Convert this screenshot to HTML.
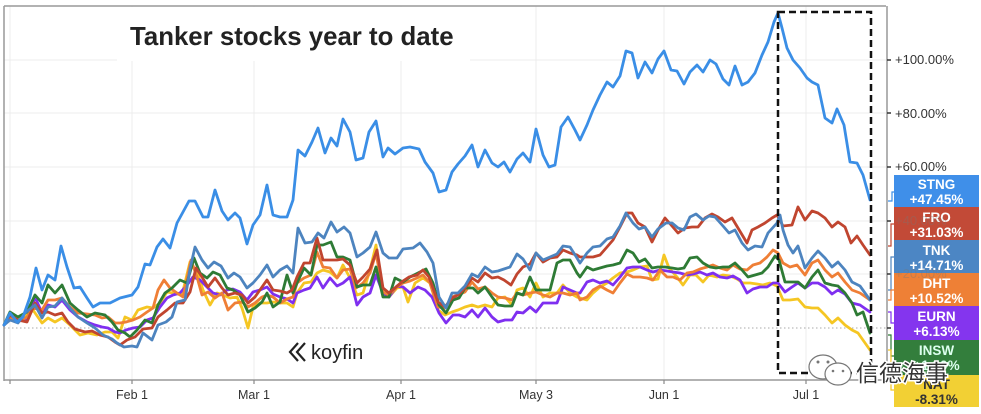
<!DOCTYPE html>
<html><head><meta charset="utf-8"><style>
html,body{margin:0;padding:0;background:#fff;}
svg{display:block;}
text{font-family:"Liberation Sans",Arial,sans-serif;}
</style></head><body>
<svg width="981" height="414" viewBox="0 0 981 414" xmlns="http://www.w3.org/2000/svg">
<rect width="981" height="414" fill="#fff"/>
<!-- grid -->
<g stroke="#ececec" stroke-width="1">
<line x1="4" y1="60" x2="886" y2="60"/>
<line x1="4" y1="113" x2="886" y2="113"/>
<line x1="4" y1="167" x2="886" y2="167"/>
<line x1="4" y1="221" x2="886" y2="221"/>
<line x1="4" y1="274" x2="886" y2="274"/>
<line x1="10" y1="6" x2="10" y2="380"/>
<line x1="132" y1="6" x2="132" y2="380"/>
<line x1="254" y1="6" x2="254" y2="380"/>
<line x1="401" y1="6" x2="401" y2="380"/>
<line x1="536" y1="6" x2="536" y2="380"/>
<line x1="664" y1="6" x2="664" y2="380"/>
<line x1="806" y1="6" x2="806" y2="380"/>
</g>
<!-- title backdrop -->
<rect x="117" y="7" width="353" height="54" fill="#fff"/>
<line x1="4" y1="328" x2="886" y2="328" stroke="#aaa" stroke-width="1" stroke-dasharray="1.5,2.5"/>
<!-- frame -->
<line x1="4" y1="6" x2="886" y2="6" stroke="#999" stroke-width="1.5"/>
<line x1="4" y1="6" x2="4" y2="381" stroke="#999" stroke-width="1.5"/>
<line x1="4" y1="380" x2="887" y2="380" stroke="#999" stroke-width="1.5"/>
<line x1="887" y1="6" x2="887" y2="380" stroke="#999" stroke-width="1.5"/>
<g stroke="#888" stroke-width="1.2">
<line x1="10" y1="380" x2="10" y2="384"/>
<line x1="132" y1="380" x2="132" y2="384"/>
<line x1="254" y1="380" x2="254" y2="384"/>
<line x1="401" y1="380" x2="401" y2="384"/>
<line x1="536" y1="380" x2="536" y2="384"/>
<line x1="664" y1="380" x2="664" y2="384"/>
<line x1="806" y1="380" x2="806" y2="384"/>
</g>
<g stroke="#333" stroke-width="1.5">
<line x1="887" y1="60" x2="891" y2="60"/>
<line x1="887" y1="113" x2="891" y2="113"/>
<line x1="887" y1="167" x2="891" y2="167"/>
<line x1="887" y1="221" x2="891" y2="221"/>
<line x1="887" y1="274" x2="891" y2="274"/>
<line x1="887" y1="328" x2="891" y2="328"/>
</g>
<!-- axis labels -->
<g font-size="13" fill="#333">
<text x="895" y="64">+100.00%</text>
<text x="895" y="118">+80.00%</text>
<text x="895" y="171">+60.00%</text>
</g>
<g font-size="12.5" fill="#333" text-anchor="middle">
<text x="132" y="399">Feb 1</text>
<text x="254" y="399">Mar 1</text>
<text x="401" y="399">Apr 1</text>
<text x="536" y="399">May 3</text>
<text x="664" y="399">Jun 1</text>
<text x="806" y="399">Jul 1</text>
</g>
<text x="130" y="45" font-size="25.8" font-weight="bold" fill="#222">Tanker stocks year to date</text>
<!-- koyfin logo -->
<g fill="none" stroke="#222" stroke-width="2.2">
<polyline points="298,343 290,352 298,361"/>
<polyline points="305,343 297,352 305,361"/>
</g>
<text x="311" y="359" font-size="20" fill="#222">koyfin</text>
<!-- series -->
<g fill="none" stroke-width="2.8" stroke-linejoin="round" stroke-linecap="round">
<polyline stroke="#f5c623" points="4,325 10,317 18,320 27,315 33,310 42,323 48,318 55,322 62,318 70,325 80,335 88,333 97,335 105,332 112,332 118,338 125,317 132,320 138,310 147,307 153,308 160,303 167,292 173,293 182,295 190,262 197,272 203,290 210,305 217,293 223,295 230,298 237,297 242,308 248,328 253,307 260,303 267,303 273,302 280,303 287,303 293,307 297,293 304,283 311,282 317,273 323,270 330,272 337,278 343,265 350,278 357,295 363,293 370,270 376,245 383,295 389,297 397,288 403,287 408,302 415,283 423,278 430,283 438,310 445,315 452,312 458,310 465,307 472,305 478,307 485,305 492,307 498,298 505,297 512,305 517,290 523,288 530,297 536,283 543,297 550,293 557,293 563,285 570,293 577,297 580,298 587,300 593,293 600,287 607,283 613,278 620,273 627,272 633,270 640,267 647,266 652,280 658,279 664,255 669,268 677,277 683,285 690,275 696,275 703,282 709,275 717,277 723,275 730,276 737,279 743,283 750,283 757,284 763,285 770,283 777,286 783,300 790,300 798,299 805,307 812,308 818,308 825,315 832,323 838,318 845,325 852,330 858,333 870,350"/>
<polyline stroke="#7f2ff0" points="4,325 10,317 18,320 27,320 35,297 42,313 48,305 55,307 62,300 70,310 78,317 87,322 95,325 102,327 108,328 115,332 120,333 126,330 133,328 140,327 147,320 153,318 160,307 167,298 173,295 180,293 187,285 193,277 200,280 207,287 213,293 220,295 227,290 233,289 240,292 247,300 253,292 260,290 267,287 273,294 280,297 287,299 293,303 297,293 304,290 310,288 317,277 323,288 330,278 337,286 343,283 350,277 357,305 363,297 370,293 376,275 383,293 389,297 397,286 403,287 410,293 418,287 425,290 432,297 439,313 446,323 453,315 459,315 465,317 472,310 478,317 485,308 492,317 498,322 505,320 512,320 517,312 523,313 530,307 536,312 543,303 550,303 557,303 563,287 570,290 577,293 580,293 587,282 593,280 600,283 607,281 613,285 620,277 627,268 633,267 640,267 647,270 653,272 660,270 667,271 673,272 680,273 687,275 693,274 700,272 707,275 713,273 720,277 727,278 733,276 740,280 747,293 753,289 760,287 767,287 773,283 778,283 785,292 792,287 798,283 805,288 812,283 818,283 825,287 832,294 838,290 845,294 852,303 860,305 870,312"/>
<polyline stroke="#ef7f36" points="4,325 10,318 18,322 27,317 33,308 42,310 48,300 55,300 62,298 70,307 78,313 87,314 95,315 102,318 108,317 115,323 120,323 126,322 133,320 140,317 147,312 153,308 158,290 164,280 170,288 177,293 183,297 191,260 197,277 202,295 208,292 215,298 222,293 228,310 235,303 242,302 248,307 255,303 262,297 267,295 273,297 280,303 287,299 293,297 297,283 304,278 311,275 317,252 323,267 330,268 337,278 343,270 350,269 356,288 363,283 370,273 376,253 383,292 389,295 397,287 403,283 410,281 417,278 423,275 430,283 438,307 445,308 452,297 458,295 465,292 472,282 478,289 485,287 492,293 498,297 505,298 512,300 517,293 523,295 530,293 536,292 543,295 550,297 557,293 563,293 570,295 577,293 580,300 587,297 593,290 600,286 607,290 613,293 620,283 627,274 633,277 640,277 647,278 653,280 660,270 667,277 673,277 680,280 687,273 693,272 700,269 707,267 713,265 720,268 727,270 733,265 740,269 747,270 753,265 760,263 767,257 773,250 778,253 783,263 790,267 797,265 805,275 812,263 818,260 825,270 832,277 838,273 845,282 852,290 860,293 870,300"/>
<polyline stroke="#2e7b35" points="4,325 10,312 18,317 27,312 35,295 42,303 48,285 55,293 62,285 70,303 78,310 87,317 95,313 105,315 112,322 118,330 125,333 130,337 137,330 145,320 152,323 158,305 165,293 172,288 180,280 187,283 194,258 200,273 207,278 213,272 220,275 227,288 233,290 240,295 248,312 255,308 262,302 267,293 273,307 280,302 287,275 293,293 297,283 304,268 311,275 317,245 323,245 331,242 337,257 343,257 350,260 357,287 363,285 370,285 376,267 383,297 389,297 395,278 403,282 410,277 418,273 426,269 433,283 439,305 446,313 453,300 459,298 465,288 473,288 478,293 485,287 492,297 498,305 505,306 512,306 517,293 523,295 530,277 536,290 543,290 550,290 557,263 563,260 570,260 577,273 580,277 587,267 593,270 600,268 607,266 613,265 620,263 627,250 633,253 639,262 645,259 652,268 658,267 665,267 672,268 678,269 684,268 690,258 697,257 703,263 710,267 716,268 723,267 729,267 735,263 742,270 748,277 755,275 762,273 768,267 775,256 779,260 785,282 792,282 798,282 805,288 812,277 818,270 825,283 832,285 838,286 845,293 852,303 857,315 863,312 870,333"/>
<polyline stroke="#c0452f" points="4,325 10,315 18,320 27,322 35,303 42,313 48,312 55,315 62,313 68,322 75,329 85,332 92,331 100,335 108,337 115,342 120,345 127,340 135,337 143,329 152,328 158,317 167,310 175,303 183,303 190,292 196,268 202,277 208,287 215,278 222,288 228,295 235,293 242,295 248,303 255,297 262,287 267,280 273,290 280,291 287,293 292,290 297,277 304,263 310,263 317,238 323,260 330,260 337,260 343,259 350,265 357,283 363,277 370,269 377,250 383,288 389,293 396,287 403,281 409,277 417,275 423,270 429,277 438,302 445,307 452,298 458,295 465,288 472,278 478,282 485,273 492,278 498,277 504,280 511,285 517,274 523,267 530,264 536,253 543,262 550,258 557,257 563,250 570,253 577,255 580,257 587,257 593,257 600,255 607,247 613,240 620,227 627,213 632,213 638,223 645,227 652,242 658,230 665,218 672,226 678,233 685,228 692,227 698,227 705,218 712,214 718,217 725,222 732,218 738,228 747,243 752,230 758,227 765,223 772,218 777,215 783,226 792,225 798,207 805,220 812,211 818,213 825,218 832,227 838,222 845,227 851,243 857,236 863,245 870,255"/>
<polyline stroke="#4d84bf" points="4,325 10,320 18,323 25,313 35,305 42,318 48,307 55,306 62,298 70,308 78,317 87,323 95,328 103,335 112,339 117,343 124,347 132,346 137,347 143,333 152,340 158,325 166,322 172,317 177,302 185,300 190,269 195,247 202,260 208,268 214,262 221,266 228,278 234,273 240,277 247,288 253,283 260,275 267,265 273,277 280,270 287,266 293,273 298,228 305,243 312,242 318,233 324,238 331,222 337,232 344,227 350,233 357,257 363,253 370,247 376,232 383,253 389,258 397,258 403,249 413,248 420,243 427,252 433,263 439,297 446,308 452,293 458,293 465,286 472,274 478,277 485,267 492,272 498,271 504,269 510,267 517,254 523,259 530,270 536,253 543,260 550,257 557,254 563,246 570,247 577,258 580,263 587,253 593,247 600,246 607,239 613,237 620,226 626,213 633,223 639,229 645,227 652,237 658,229 666,223 672,223 678,228 684,230 690,217 696,214 703,220 709,216 715,217 723,226 729,233 735,230 742,243 748,250 755,246 762,247 768,233 777,223 780,215 783,230 788,245 793,253 798,246 805,268 812,258 818,251 825,258 832,267 838,262 845,270 852,282 860,286 870,300"/>
<polyline stroke="#3a8ee6" points="4,325 10,313 17,322 23,317 30,297 36,268 42,290 48,275 55,280 61,246 67,267 74,288 80,287 87,298 93,307 100,303 110,303 120,298 132,295 138,287 145,264 150,265 157,247 163,239 170,248 177,223 183,212 189,201 195,201 203,217 208,217 215,190 222,211 228,220 235,213 240,218 247,244 253,225 260,215 267,185 273,215 280,217 287,217 293,200 298,150 305,156 312,142 318,128 325,153 331,138 337,146 343,119 350,132 356,160 363,158 369,132 376,121 383,157 388,148 395,154 403,148 410,147 419,149 425,162 433,173 439,192 446,190 452,172 458,164 465,156 472,145 478,167 485,150 492,163 498,167 504,162 510,172 517,159 523,153 530,162 536,129 543,155 549,167 555,165 561,127 568,117 575,130 580,140 587,125 593,110 600,95 607,82 613,87 620,76 626,51 632,53 638,78 645,62 652,73 658,59 664,51 671,70 677,71 684,84 690,72 697,65 703,72 710,60 716,64 723,79 729,85 735,66 742,85 748,82 755,73 762,55 768,42 774,22 778,13 782,28 787,48 793,60 800,68 807,78 812,82 818,85 825,118 832,123 837,109 844,125 850,162 857,163 863,175 870,200"/>
</g>
<!-- connectors -->
<g fill="none" stroke-width="1.2">
<polyline stroke="#3a8ee6" points="888,201 892,201 892,192 895,192"/>
<polyline stroke="#c0452f" points="888,246 891,246 891,224 895,224"/>
<polyline stroke="#4d84bf" points="888,290 891,290 891,257 895,257"/>
<polyline stroke="#ef7f36" points="888,300 891,300 891,290 895,290"/>
<polyline stroke="#7f2ff0" points="888,312 891,312 891,323 895,323"/>
<polyline stroke="#2e7b35" points="888,335 891,335 891,356 895,356"/>
<polyline stroke="#f5c623" points="888,350 891,350 891,390 895,390"/>
</g>
<!-- dashed box -->
<rect x="778" y="12" width="93" height="361" fill="none" stroke="#111" stroke-width="2.5" stroke-dasharray="7,4"/>
<!-- label boxes -->
<g font-size="13.5" font-weight="bold" text-anchor="middle">
<rect x="894" y="175" width="85" height="32" fill="#3f8fe9"/>
<text x="936.5" y="189" fill="#fff">STNG</text><text x="936.5" y="204" fill="#fff">+47.45%</text>
<rect x="894" y="207" width="85" height="33" fill="#c24a37"/>
<text x="936.5" y="222" fill="#fff">FRO</text><text x="936.5" y="237" fill="#fff">+31.03%</text>
<rect x="894" y="240" width="85" height="33" fill="#4c86c4"/>
<text x="936.5" y="255" fill="#fff">TNK</text><text x="936.5" y="270" fill="#fff">+14.71%</text>
<rect x="894" y="273" width="85" height="33" fill="#ee8036"/>
<text x="936.5" y="288" fill="#fff">DHT</text><text x="936.5" y="303" fill="#fff">+10.52%</text>
<rect x="894" y="306" width="85" height="34" fill="#8435ee"/>
<text x="936.5" y="321" fill="#fff">EURN</text><text x="936.5" y="336" fill="#fff">+6.13%</text>
<rect x="894" y="340" width="85" height="35" fill="#337e3c"/>
<text x="936.5" y="355" fill="#dfe">INSW</text><text x="936.5" y="370" fill="#dfe">+1.90%</text>
<rect x="894" y="375" width="85" height="32" fill="#f2d034"/>
<text x="936.5" y="389" fill="#333">NAT</text><text x="936.5" y="404" fill="#333">-8.31%</text>
</g>
<g font-size="13" fill="#777" opacity="0.35">
<text x="895" y="225">+40.00%</text>
<text x="895" y="278">+20.00%</text>
</g>
<!-- watermark -->
<g fill="#fff" stroke="#777" stroke-width="1.2">
<ellipse cx="823" cy="367" rx="14" ry="12"/>
<ellipse cx="838" cy="374" rx="13" ry="11"/>
</g>
<g fill="#777">
<circle cx="818" cy="362" r="1.5"/><circle cx="828" cy="362" r="1.5"/>
<circle cx="833" cy="371" r="1.3"/><circle cx="843" cy="371" r="1.3"/>
</g>
<text x="856" y="381" font-size="23" fill="#333" stroke="#fff" stroke-width="3" paint-order="stroke" font-family="'Noto Sans CJK SC','WenQuanYi Zen Hei',sans-serif">信德海事</text>
</svg>
</body></html>
